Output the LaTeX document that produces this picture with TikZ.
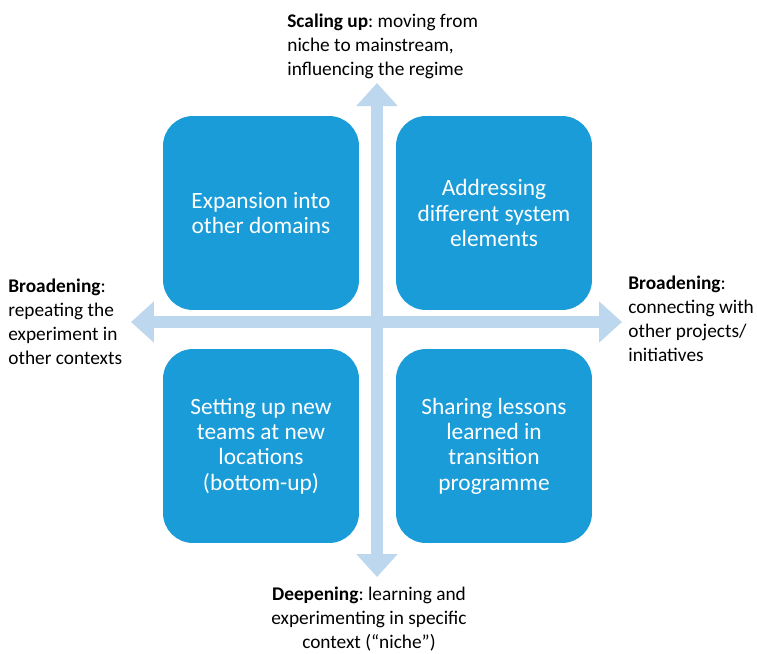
\documentclass[tikz,border=0pt]{standalone}
\usepackage{fontspec}
\setmainfont{Carlito}
\usetikzlibrary{arrows.meta}
\frenchspacing

\definecolor{boxblue}{HTML}{1A9CD8}
\definecolor{axisblue}{HTML}{BDD7EE}

\tikzset{
    quadbox/.style={fill=boxblue, draw=none, rounded corners=0.6cm,
        minimum width=3.92cm, minimum height=3.88cm, text=white,
        align=center, font=\fontsize{13.3}{14.4}\selectfont},
    axisarrow/.style={draw=axisblue, line width=0.24cm,
        {Triangle[length=0.46cm,width=0.8cm]}-{Triangle[length=0.46cm,width=0.8cm]}},
    axislabel/.style={align=left, inner sep=0pt, font=\fontsize{11}{13.6}\selectfont}
}

\begin{document}
\begin{tikzpicture}[x=0.02cm, y=-0.02cm]
                \useasboundingbox (0, 0) rectangle (757, 653);

                \coordinate (up) at (377, 83);
                \coordinate (down) at (377, 577);
                \coordinate (left) at (131, 322);
                \coordinate (right) at (622, 322);

                \draw[axisarrow] (down) -- (up);

                \draw[axisarrow] (left) -- (right);

                \node[quadbox] (domains) at (261, 213) {Expansion into\\other domains};

                \node[quadbox] (elements) at (494, 213) {Addressing\\different system\\elements};

                \node[quadbox] (teams) at (261, 446) {Setting up new\\teams at new\\locations\\(bottom-up)};

                \node[quadbox] (lessons) at (494, 446) {Sharing lessons\\learned in\\transition\\programme};

                \node[axislabel, anchor=north west] (scaling) at (287, 14)
                    {\textbf{Scaling up}: moving from\\niche to mainstream,\\influencing the regime};

                \node[axislabel, anchor=north west] (broadleft) at (8, 279)
                    {\textbf{Broadening}:\\repeating the\\experiment in\\other contexts};

                \node[axislabel, anchor=north west] (broadright) at (628, 276)
                    {\textbf{Broadening}:\\connecting with\\other projects/\\initiatives};

                \node[axislabel, align=center, anchor=north] (deepening) at (369, 587)
                    {\textbf{Deepening}: learning and\\experimenting in specific\\context (``niche'')};
            \end{tikzpicture}
\end{document}
